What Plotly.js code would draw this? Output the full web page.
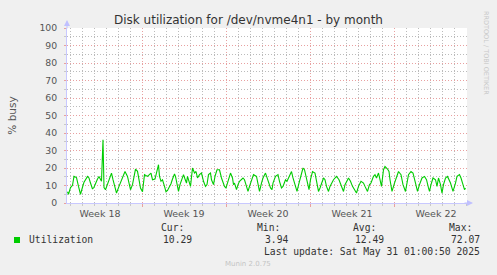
<!DOCTYPE html>
<html>
<head>
<meta charset="utf-8">
<script src="https://cdn.plot.ly/plotly-3.0.1.min.js"></script>
<style>
html,body{margin:0;padding:0;background:#f0f0f0;}
#chart{width:497px;height:275px;}
</style>
</head>
<body>
<div id="chart"></div>
<script>
// Hours since the left edge of the graph (2-hour resolution month view)
const hours = [
  1,3,7,11,14,19,23,27,31,34,41,44,47,51,54,57,61,64,67,69,72,74,77,81,84,89,92,94,99,104,109,116,121,124,127,131,134,137,141,144,147,151,
  153,155,161,168,171,176,183,185,188,191,195,198,201,205,208,211,215,217,219,221,223,226,229,233,236,239,241,244,247,251,255,258,261,265,269,273,277,280,283,287,289,293,296,300,305,309,315,318,321,
  324,327,331,333,335,339,342,345,352,355,359,362,365,369,373,379,382,385,389,392,397,402,407,410,412,417,422,425,429,432,437,440,449,452,457,460,464,469,472,475,479,481,484,
  487,491,496,499,503,506,509,513,516,519,523,526,533,539,544,549,553,556,563,567,571,579,583,588,593,596,601,605,608,613,616,619,623,626,629,633,636,641,644,646,649,
  650,655,659,663,668,672,677,680,683,688,692,697,701,705,710,715,719,723,725,728,732,737,740,743,747,750,753,757,761,767,772,777,780,785,788,792,795,797
];
const utilization = [
  6.4,5.0,8.8,10.1,15.2,14.5,9.5,5.0,9.0,11.9,15.2,14.3,11.4,8.0,9.0,11.4,13.7,15.2,13.3,12.4,36.2,8.8,7.6,10.5,13.3,17.1,13.3,11.4,5.7,9.5,13.3,18.0,15.2,10.5,7.6,10.5,15.2,19.4,18.1,13.3,8.6,6.5,
  11.0,16.2,15.2,17.1,13.3,13.7,21.9,15.2,12.4,13.3,9.5,6.4,7.2,9.0,11.0,13.7,16.6,15.2,11.4,7.6,6.6,10.5,13.3,16.2,13.7,11.4,15.2,12.4,9.5,20.0,17.1,18.0,14.3,16.2,17.1,12.4,9.5,10.5,16.2,17.1,13.3,10.5,15.2,19.0,19.0,14.3,9.5,8.6,11.4,
  15.2,17.1,14.3,10.5,11.4,7.6,10.5,12.4,14.3,13.3,9.5,6.6,9.5,13.3,16.2,15.2,11.4,6.6,11.4,14.3,17.1,13.3,8.6,7.6,11.4,15.2,16.2,12.4,8.6,9.5,13.3,12.4,18.0,14.3,8.6,6.6,11.4,18.0,20.0,19.0,14.3,11.0,7.6,
  13.3,18.0,17.1,11.4,6.6,8.6,11.4,14.3,13.3,9.5,6.6,9.5,13.3,15.2,13.3,9.5,6.6,10.5,14.3,12.4,9.5,5.7,9.5,12.4,11.4,9.5,6.6,10.5,11.4,15.2,16.2,14.3,17.1,13.3,9.5,19.0,20.9,19.4,18.0,13.3,7.6,
  6.6,11.4,15.2,18.0,16.2,10.5,6.6,11.4,16.2,18.0,17.1,11.4,6.6,10.5,14.3,15.2,13.3,8.6,6.6,10.5,14.3,13.3,9.5,14.3,10.5,5.7,10.5,14.3,15.2,11.4,6.6,11.4,15.2,16.2,14.3,10.5,7.6,8.5
];
const weekBoundaries = [150, 318, 486, 654];
const weekLabelPos = [66, 234, 402, 570, 738];
const weekLabels = ['Week 18', 'Week 19', 'Week 20', 'Week 21', 'Week 22'];
const seriesName = 'Utilization';
const statNames = ['Cur:', 'Min:', 'Avg:', 'Max:'];
const statValues = ['10.29', '3.94', '12.49', '72.07'];
const lastUpdate = 'Last update: Sat May 31 01:00:50 2025';

const L = 67, T = 28, W = 400, H = 175;
const px = x => (x - L) / W;
const py = y => (T + H - y) / H;

const mono = {family: 'DejaVu Sans Mono', size: 9.7, color: '#333'};
const annotations = [];
annotations.push({xref:'paper', yref:'paper', x:px(26.5), y:py(239.5), xanchor:'left', yanchor:'middle', text:seriesName, showarrow:false, font:mono});
const headLeft = [158.7, 254.7, 351, 447];
const valRight = [194, 290, 386, 482];
statNames.forEach((s, i) => {
  annotations.push({xref:'paper', yref:'paper', x:px(headLeft[i]), y:py(227.7), xanchor:'left', yanchor:'middle', text:s, showarrow:false, font:mono});
  annotations.push({xref:'paper', yref:'paper', x:px(valRight[i]), y:py(239.5), xanchor:'right', yanchor:'middle', text:statValues[i], showarrow:false, font:mono});
});
annotations.push({xref:'paper', yref:'paper', x:px(482), y:py(251.7), xanchor:'right', yanchor:'middle', text:lastUpdate, showarrow:false, font:mono});
annotations.push({xref:'paper', yref:'paper', x:px(248), y:py(263.7), xanchor:'center', yanchor:'middle', text:'Munin 2.0.75', showarrow:false, font:{family:'DejaVu Sans', size:7, color:'#c4c4c4'}});
annotations.push({xref:'paper', yref:'paper', x:px(486), y:py(53), xanchor:'center', yanchor:'middle', text:'RRDTOOL / TOBI OETIKER', textangle:90, showarrow:false, font:{family:'DejaVu Sans', size:6.5, color:'#c8c8c8'}});
// axis arrows
annotations.push({xref:'paper', yref:'paper', x:0, y:py(20), ax:0, ay:10, text:'', showarrow:true, arrowhead:2, arrowsize:1.2, arrowwidth:1, arrowcolor:'#c0c0ff'});
annotations.push({xref:'paper', yref:'paper', x:px(473), y:0, ax:-10, ay:0, text:'', showarrow:true, arrowhead:2, arrowsize:1.2, arrowwidth:1, arrowcolor:'#c0c0ff'});

const trace = {
  x: hours, y: utilization, type: 'scatter', mode: 'lines', name: seriesName,
  line: {color: '#00cc00', width: 1.1}, hoverinfo: 'skip'
};
// empty trace so the label axis (x2) is drawn
const labelAxisTrace = {x: [], y: [], type: 'scatter', mode: 'lines', xaxis: 'x2', yaxis: 'y', hoverinfo: 'skip', showlegend: false};

const RED = '#e8a0a0', GRAY = '#bbbbbb', DASH = '1px,2px';

const layout = {
  width: 497, height: 275,
  margin: {l: L, r: 497 - L - W, t: T, b: 275 - T - H, pad: 0},
  paper_bgcolor: '#f0f0f0', plot_bgcolor: '#ffffff',
  showlegend: false,
  title: {text: 'Disk utilization for /dev/nvme4n1 - by month', xref: 'container', x: 0.5, xanchor: 'center', yref: 'container', y: 1 - 19.5/275, yanchor: 'middle',
          font: {family: 'DejaVu Sans', size: 12, color: '#333'}},
  xaxis: {
    range: [0, 800], tickmode: 'array', tickvals: weekBoundaries, showticklabels: false,
    showgrid: true, gridcolor: RED, griddash: DASH, gridwidth: 1,
    ticks: 'outside', ticklen: 3, tickcolor: RED,
    minor: {tick0: 6, dtick: 24, showgrid: true, gridcolor: GRAY, griddash: DASH, gridwidth: 1, ticks: 'outside', ticklen: 2, tickcolor: '#c8c8c8'},
    showline: true, linecolor: '#c8c8ff', linewidth: 1, zeroline: false, fixedrange: true
  },
  xaxis2: {
    overlaying: 'x', anchor: 'y', side: 'bottom', range: [0, 800], tickmode: 'array', tickvals: weekLabelPos, ticktext: weekLabels,
    showgrid: false, ticks: '', showline: false, zeroline: false, ticklabelstandoff: 3,
    tickfont: {family: 'DejaVu Sans', size: 9.5, color: '#555'}
  },
  yaxis: {
    range: [0, 100], tickmode: 'linear', tick0: 0, dtick: 10,
    showgrid: true, gridcolor: RED, griddash: DASH, gridwidth: 1,
    ticks: 'outside', ticklen: 2, tickcolor: RED, ticklabelstandoff: 5,
    minor: {tick0: 0, dtick: 5, showgrid: true, gridcolor: GRAY, griddash: DASH, gridwidth: 1, ticks: 'outside', ticklen: 2, tickcolor: '#c8c8c8'},
    tickfont: {family: 'DejaVu Sans', size: 9.3, color: '#555'},
    showline: true, linecolor: '#c8c8ff', linewidth: 1, zeroline: false,
    title: {text: '% busy', font: {family: 'DejaVu Sans', size: 10.5, color: '#555'}, standoff: 20}
  },
  shapes: [
    {type: 'rect', xref: 'paper', yref: 'paper', x0: px(14), x1: px(20), y0: py(243), y1: py(237), fillcolor: '#00cc00', line: {width: 0}}
  ],
  annotations: annotations
};

Plotly.newPlot('chart', [trace, labelAxisTrace], layout, {staticPlot: true, displayModeBar: false});
</script>
</body>
</html>
